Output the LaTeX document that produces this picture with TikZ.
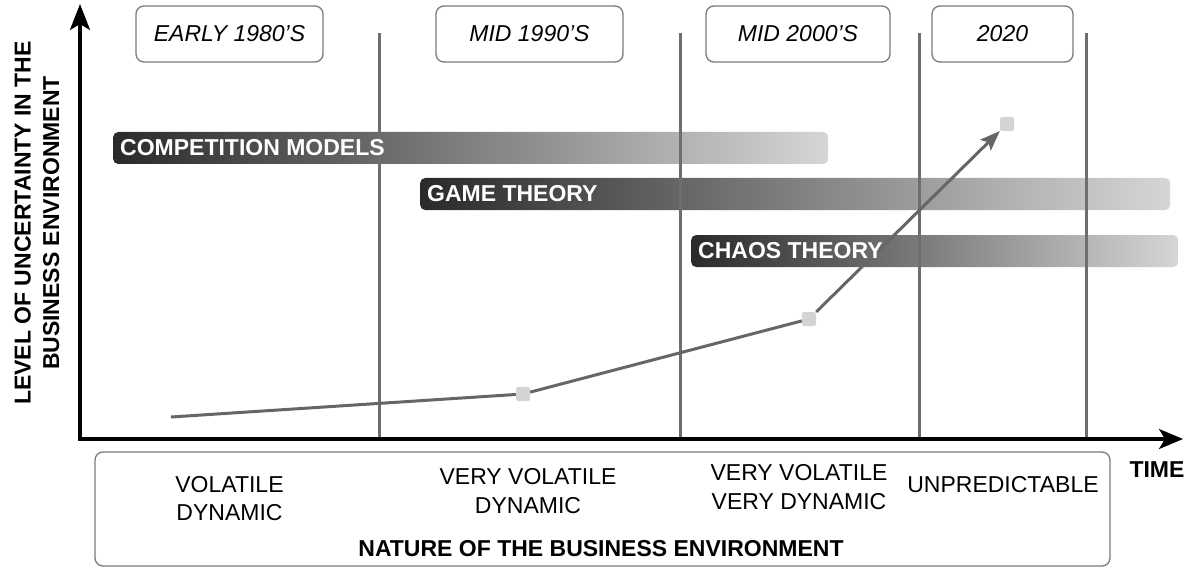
\documentclass[tikz,border=0pt]{standalone}
\usepackage{fontspec}
\setmainfont{Liberation Sans}
\usetikzlibrary{arrows.meta,positioning}
\definecolor{linegray}{HTML}{6E6E6E}
\definecolor{boxgray}{HTML}{7A7A7A}
\definecolor{trendgray}{HTML}{666666}
\definecolor{dotgray}{HTML}{D4D4D4}
\definecolor{bardark}{HTML}{2A2A2A}
\definecolor{barlight}{HTML}{D6D6D6}
\newcommand{\bigfont}{\fontsize{23}{28.5}\selectfont}
\begin{document}
\begin{tikzpicture}[x=1pt,y=-1pt,font=\bigfont,
    axisline/.style={line width=3.2pt,line join=miter,
      {Stealth[length=26pt,width=20pt,inset=6pt]}-{Stealth[length=24pt,width=20pt,inset=6pt]}},
    era/.style={draw=boxgray,line width=1.3pt,rounded corners=8pt,
      minimum height=56pt,font=\bigfont\itshape},
    bar/.style={anchor=west,rounded corners=5pt,left color=bardark,right color=barlight,
      minimum height=32pt,inner sep=0pt},
    bartext/.style={anchor=west,text=white,font=\bigfont\bfseries,inner xsep=7pt},
    phase/.style={draw=linegray,line width=3pt},
    trend/.style={draw=trendgray,line width=3pt},
    dot/.style={fill=dotgray,rounded corners=2pt,minimum size=14pt,inner sep=0pt},
    envtext/.style={align=center},
    heading/.style={font=\bigfont\bfseries}]

  \useasboundingbox (0,0) rectangle (1189,567);

  % gradient bars
  \node[bar,minimum width=715pt] (comp)  at (113,148) {};
  \node[bar,minimum width=750pt] (game)  at (420,194) {};
  \node[bar,minimum width=487pt] (chaos) at (691,251) {};

  % period lines
  \foreach \x in {379,680,919,1086}
    \draw[phase] (\x,33) -- (\x,439);

  % axes
  \coordinate (ytip) at (80,4);
  \coordinate (origin) at (80,439);
  \coordinate (xtip) at (1183,439);
  \draw[axisline] (ytip) -- (origin) -- (xtip);

  % periods
  \node[era,minimum width=187pt] (e80) at (229.5,34) {EARLY 1980'S};
  \node[era,minimum width=187pt] (e90) at (529.5,34) {MID 1990'S};
  \node[era,minimum width=184pt] (e00) at (798,34) {MID 2000'S};
  \node[era,minimum width=141pt] (e20) at (1002.5,34) {2020};

  % uncertainty trend
  \coordinate (t0) at (171,417);
  \node[dot] (t1) at (523,394) {};
  \node[dot] (t2) at (809,319) {};
  \node[dot] (t3) at (1007,124) {};
  \draw[trend] (t0) -- (t1) -- (t2);
  \draw[trend,-{Stealth[length=20pt,width=15pt,inset=4pt]}] (t2) -- (t3);

  % bar labels
  \node[bartext] (comptext)  at (comp.west)  {COMPETITION MODELS};
  \node[bartext] (gametext)  at (game.west)  {GAME THEORY};
  \node[bartext] (chaostext) at (chaos.west) {CHAOS THEORY};

  % nature of the environment
  \node[draw=boxgray,line width=1.3pt,rounded corners=8pt,minimum width=1015pt,
        minimum height=114pt,inner sep=0pt] (envbox) at (602.5,509) {};
  \node[envtext] (vol)   at (229.5,498.5) {VOLATILE\\DYNAMIC};
  \node[envtext] (vvol)  at (528,491) {VERY VOLATILE\\DYNAMIC};
  \node[envtext] (vvvd)  at (799,487) {VERY VOLATILE\\VERY DYNAMIC};
  \node (unpred) at (1003,485) {UNPREDICTABLE};
  \node[heading] (nature) at (601,548.5) {NATURE OF THE BUSINESS ENVIRONMENT};

  % axis titles
  \node[heading] (time) at (1157,470) {TIME};
  \node[heading,rotate=90,align=center] (ylab) at (37,223)
    {LEVEL OF UNCERTAINTY IN THE\\BUSINESS ENVIRONMENT};
\end{tikzpicture}
\end{document}
